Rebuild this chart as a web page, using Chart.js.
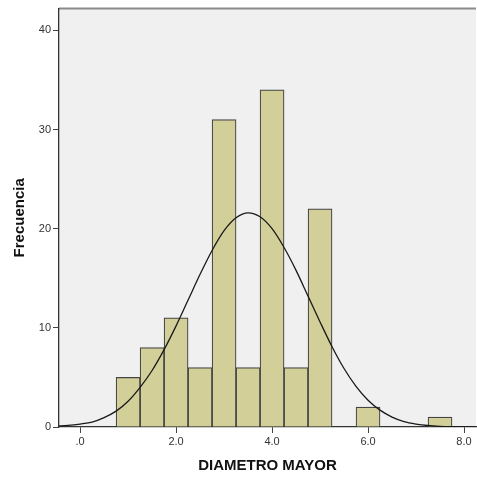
<!DOCTYPE html>
<html>
<head>
<meta charset="utf-8">
<script src="https://cdn.jsdelivr.net/npm/chart.js@4.4.1/dist/chart.umd.min.js"></script>
<style>
  html, body { margin: 0; padding: 0; background: #ffffff; }
  #wrap { width: 477px; height: 478px; }
</style>
</head>
<body>
<div id="wrap"><canvas id="chart"></canvas></div>
<script>
// histogram bins (centre of each 0.5 wide bin) and their counts
var binCenters = [1.0, 1.5, 2.0, 2.5, 3.0, 3.5, 4.0, 4.5, 5.0, 6.0, 7.5];
var binCounts = [5, 8, 11, 6, 31, 6, 34, 6, 22, 2, 1];

// normal curve, every 0.25
var curveX = [-0.5, -0.25, 0, 0.25, 0.5, 0.75, 1.0, 1.25, 1.5, 1.75, 2.0, 2.25, 2.5, 2.75,
              3.0, 3.25, 3.5, 3.75, 4.0, 4.25, 4.5, 4.75, 5.0, 5.25, 5.5, 5.75, 6.0, 6.25,
              6.5, 6.75, 7.0, 7.25, 7.5, 7.75, 8.0, 8.25];
var curveY = [0.09, 0.16, 0.3, 0.5, 0.95, 1.6, 2.6, 4.0, 5.7, 7.8, 10.2, 12.8, 15.4, 17.8,
              19.8, 21.1, 21.6, 21.2, 20.0, 18.1, 15.8, 13.2, 10.6, 8.1, 5.9, 4.1, 2.7, 1.7,
              1.0, 0.55, 0.3, 0.15, 0.07, 0.03, 0.01, 0.0];

var xTicks = [0, 2, 4, 6, 8];
var xTickLabels = [".0", "2.0", "4.0", "6.0", "8.0"];
var yTicks = [0, 10, 20, 30, 40];

var FONT = "'Liberation Sans', Arial, sans-serif";

// grey plot background and the frame line on top
var plotFrame = {
    id: "plotFrame",
    beforeDraw: function (chart) {
        var a = chart.chartArea;
        var ctx = chart.ctx;
        ctx.save();
        ctx.fillStyle = "#f0f0f0";
        ctx.fillRect(a.left, a.top, a.right - a.left, a.bottom - a.top);
        ctx.strokeStyle = "#8a8a8a";
        ctx.lineWidth = 2;
        ctx.beginPath();
        ctx.moveTo(a.left, a.top);
        ctx.lineTo(a.right, a.top);
        ctx.stroke();
        ctx.restore();
    }
};

var bars = [];
for (var i = 0; i < binCenters.length; i++)
    bars.push({ x: binCenters[i], y: binCounts[i] });

var curve = [];
for (var i = 0; i < curveX.length; i++)
    curve.push({ x: curveX[i], y: curveY[i] });

new Chart(document.getElementById("chart"), {
    type: "bar",
    data: {
        datasets: [
            {
                type: "line",
                data: curve,
                borderColor: "#1a1a1a",
                borderWidth: 1.3,
                pointRadius: 0,
                cubicInterpolationMode: "monotone",
                fill: false,
                order: 0
            },
            {
                type: "bar",
                data: bars,
                backgroundColor: "#d3cf98",
                borderColor: "#454545",
                borderWidth: 1.2,
                barPercentage: 1,
                categoryPercentage: 1,
                order: 1
            }
        ]
    },
    options: {
        responsive: true,
        maintainAspectRatio: false,
        animation: false,
        events: [],
        layout: { padding: { top: 4, right: 1, left: 0, bottom: 0 } },
        plugins: {
            legend: { display: false },
            tooltip: { enabled: false }
        },
        scales: {
            x: {
                type: "linear",
                min: -0.44,
                max: 8.25,
                offset: false,
                afterBuildTicks: function (scale) {
                    scale.ticks = xTicks.map(function (v) { return { value: v }; });
                },
                afterFit: function (scale) { scale.height = 51; },
                grid: {
                    offset: false,
                    drawOnChartArea: false,
                    drawTicks: true,
                    tickLength: 6,
                    color: "#444"
                },
                border: { display: true, color: "#333", width: 1.3 },
                ticks: {
                    padding: 2,
                    color: "#333",
                    font: { family: FONT, size: 11 },
                    maxRotation: 0,
                    callback: function (value) {
                        var k = xTicks.indexOf(value);
                        return k >= 0 ? xTickLabels[k] : "";
                    }
                },
                title: {
                    display: true,
                    text: "DIAMETRO MAYOR",
                    color: "#111",
                    font: { family: FONT, size: 15, weight: "bold" },
                    padding: { top: 0, bottom: 3 }
                }
            },
            y: {
                min: 0,
                max: 42.2,
                afterBuildTicks: function (scale) {
                    scale.ticks = yTicks.map(function (v) { return { value: v }; });
                },
                afterFit: function (scale) { scale.width = 59; },
                grid: {
                    offset: false,
                    drawOnChartArea: false,
                    drawTicks: true,
                    tickLength: 6,
                    color: "#444"
                },
                border: { display: true, color: "#333", width: 1.3 },
                ticks: {
                    padding: 2,
                    color: "#333",
                    font: { family: FONT, size: 11 }
                },
                title: {
                    display: true,
                    text: "Frecuencia",
                    color: "#111",
                    font: { family: FONT, size: 15, weight: "bold" },
                    padding: { top: 11, bottom: 0 }
                }
            }
        }
    },
    plugins: [plotFrame]
});
</script>
</body>
</html>
